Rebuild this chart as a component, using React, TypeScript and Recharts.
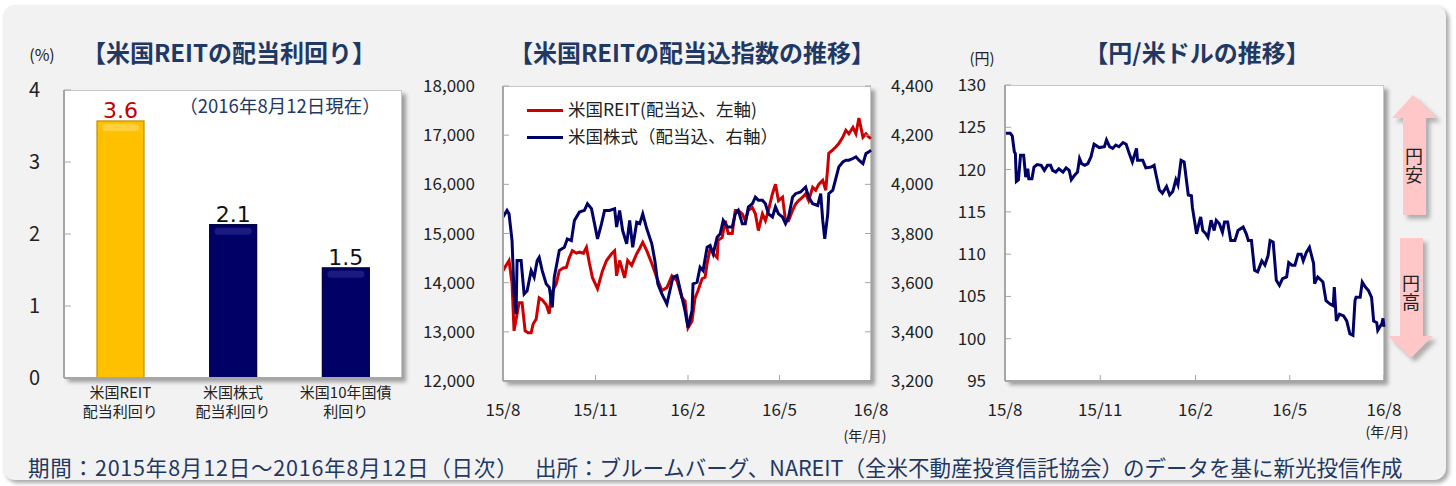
import React from "react";
import {
  BarChart,
  Bar,
  Cell,
  LabelList,
  LineChart,
  Line,
  XAxis,
  YAxis,
} from "recharts";

const FONT = "'Noto Sans CJK JP', 'Noto Sans', sans-serif";
const NAVY = "#1F3864";
const TICK_GRAY = "#A6A6A6";

// ---- 米国REITの配当利回り ----
const yieldNames = ["米国REIT\n配当利回り", "米国株式\n配当利回り", "米国10年国債\n利回り"];
const yieldValues = [3.57, 2.13, 1.53];
const yieldTicks = [0, 1, 2, 3, 4];
const barColors = ["#FFC000", "#000066", "#000066"];
const barEdges = ["#BF9000", "#00003A", "#00003A"];
const barGloss = ["#FFE48A", "#3B3B9E", "#3B3B9E"];

// ---- shared time axis (days from 2015/8/12) ----
const dateTicks = [0, 92, 184, 275, 366];
const dateLabels = ["15/8", "15/11", "16/2", "16/5", "16/8"];

// ---- 米国REIT (配当込、左軸) ----
const reitDays = [
  0, 3, 6, 9, 11, 16, 19, 22, 25, 28, 30, 33, 36, 39, 43, 46, 48, 53, 56, 60, 63, 66, 69, 73, 76,
  80, 83, 86, 89, 94, 99, 103, 108, 111, 113, 116, 121, 124, 128, 133, 136, 139, 143, 148, 153,
  158, 163, 168, 173, 178, 181, 184, 188, 191, 194, 198, 201, 203, 206, 209, 213, 214, 218, 221,
  224, 228, 231, 234, 238, 241, 244, 248, 251, 254, 258, 261, 264, 268, 271, 274, 278, 281, 284,
  288, 291, 294, 298, 301, 304, 308, 311, 314, 318, 321, 323, 324, 328, 331, 334, 338, 341, 344,
  348, 351, 354, 358, 361, 364, 366,
];
const reitValues = [
  14245, 14350, 14450, 13980, 13020, 13590, 13590, 13020, 12980, 12980, 13160, 13260, 13690, 13650,
  13550, 13370, 13780, 13980, 14245, 14300, 14310, 14510, 14650, 14600, 14620, 14600, 14720, 14390,
  14100, 13880, 14245, 14450, 14590, 14650, 14140, 14450, 14100, 14450, 14350, 14590, 14700, 14820,
  14650, 14390, 14100, 13840, 13900, 14140, 14040, 13690, 13630, 13080, 13220, 13690, 13840, 14080,
  14110, 14390, 14690, 14600, 14510, 14860, 14920, 15260, 15000, 15000, 15470, 15470, 15400, 15260,
  15470, 15530, 15400, 15060, 15400, 15260, 15470, 15810, 16000, 15670, 15740, 15260, 15260, 15470,
  15600, 15670, 15740, 15810, 15670, 15940, 15880, 16000, 16080, 15880, 16350, 16630, 16700, 16760,
  16830, 16960, 17100, 17030, 17160, 17030, 17350, 16960, 17030, 16960, 16930,
];
const reitTicks = [12000, 13000, 14000, 15000, 16000, 17000, 18000];

// ---- 米国株式 (配当込、右軸) ----
const stockDays = [
  0, 2, 4, 6, 9, 11, 13, 14, 18, 21, 24, 28, 31, 34, 36, 39, 43, 46, 49, 51, 56, 61, 64, 68, 71, 76,
  81, 84, 88, 91, 94, 98, 101, 106, 111, 113, 116, 119, 123, 126, 129, 133, 136, 139, 143, 148,
  151, 154, 158, 163, 166, 169, 173, 178, 181, 184, 188, 189, 193, 196, 199, 203, 206, 209, 213,
  216, 219, 223, 228, 231, 234, 238, 241, 244, 248, 251, 254, 258, 261, 264, 268, 271, 274, 278,
  281, 284, 288, 291, 296, 301, 304, 308, 313, 316, 318, 320, 323, 324, 328, 331, 334, 338, 341,
  344, 348, 351, 354, 358, 361, 364, 366,
];
const stockValues = [
  3867, 3880, 3894, 3880, 3771, 3554, 3472, 3690, 3690, 3554, 3567, 3649, 3622, 3690, 3703, 3649,
  3595, 3581, 3499, 3622, 3731, 3744, 3778, 3771, 3853, 3887, 3894, 3921, 3901, 3840, 3778, 3840,
  3894, 3894, 3901, 3826, 3894, 3812, 3758, 3853, 3744, 3846, 3840, 3880, 3819, 3758, 3690, 3595,
  3554, 3513, 3567, 3622, 3629, 3540, 3486, 3418, 3486, 3595, 3602, 3663, 3649, 3744, 3751, 3717,
  3785, 3799, 3853, 3826, 3826, 3880, 3894, 3840, 3840, 3908, 3921, 3948, 3935, 3935, 3921, 3880,
  3867, 3908, 3880, 3867, 3840, 3867, 3948, 3962, 3969, 3989, 3948, 3921, 3914, 3962, 3853, 3778,
  3880, 3962, 3976, 4023, 4071, 4091, 4098, 4098, 4105, 4112, 4098, 4084, 4125, 4132, 4139,
];
const stockTicks = [3200, 3400, 3600, 3800, 4000, 4200, 4400];

// ---- 円/米ドル ----
const fxDays = [
  0, 5, 7, 9, 10, 11, 13, 15, 18, 20, 22, 23, 26, 28, 31, 35, 38, 41, 44, 46, 49, 52, 56, 59, 62,
  64, 67, 70, 72, 74, 77, 80, 83, 86, 91, 96, 98, 101, 104, 107, 110, 114, 117, 120, 123, 127, 128,
  133, 136, 141, 144, 146, 149, 152, 156, 159, 162, 165, 167, 170, 173, 177, 180, 181, 185, 188,
  189, 191, 194, 196, 199, 202, 204, 207, 210, 212, 215, 218, 222, 225, 230, 233, 235, 238, 241,
  244, 248, 251, 254, 256, 259, 262, 265, 268, 272, 274, 277, 280, 283, 286, 288, 291, 294, 298,
  299, 302, 307, 310, 314, 317, 318, 320, 323, 327, 330, 333, 336, 338, 339, 343, 345, 348, 351,
  354, 356, 359, 360, 364, 365, 366,
];
const fxValues = [
  124.3, 124.3, 124.0, 122.1, 121.9, 118.6, 118.8, 121.7, 121.7, 119.1, 120.1, 118.9, 118.9, 120.3,
  120.6, 120.5, 119.9, 120.5, 120.5, 119.9, 119.7, 120.1, 119.7, 120.2, 119.9, 118.8, 119.3, 119.7,
  121.3, 120.7, 120.5, 120.7, 121.5, 123.0, 122.6, 122.7, 123.5, 122.7, 122.5, 122.9, 122.7, 123.2,
  123.0, 121.9, 120.9, 122.5, 121.1, 121.1, 120.2, 120.3, 120.5, 119.3, 117.6, 117.2, 118.0, 117.0,
  117.4, 118.8, 118.2, 121.1, 120.9, 117.0, 116.9, 115.5, 112.4, 114.0, 114.4, 112.8, 112.4, 112.0,
  114.0, 112.8, 114.0, 113.6, 112.6, 113.8, 113.8, 111.6, 111.6, 112.8, 113.2, 112.4, 111.6, 111.6,
  108.1, 107.9, 109.2, 108.7, 109.8, 111.6, 111.4, 106.9, 106.3, 107.1, 107.3, 109.0, 108.7, 108.7,
  110.0, 110.0, 109.2, 110.2, 110.8, 108.9, 106.5, 107.3, 106.7, 104.5, 104.1, 103.9, 106.1, 102.1,
  102.9, 102.7, 102.1, 100.6, 100.4, 104.5, 104.9, 104.9, 106.7, 106.1, 105.7, 104.9, 102.1, 101.9,
  101.0, 101.8, 102.4, 101.4,
];
const fxTicks = [95, 100, 105, 110, 115, 120, 125, 130];

const yieldData = yieldNames.map((name, i) => ({ name, value: yieldValues[i] }));
const reitData = reitDays.map((day, i) => ({ day, v: reitValues[i] }));
const stockData = stockDays.map((day, i) => ({ day, v: stockValues[i] }));
const fxData = fxDays.map((day, i) => ({ day, v: fxValues[i] }));

const dateFmt = (v: number) => dateLabels[dateTicks.indexOf(v)] ?? "";
const tickStyle = { fontSize: 17, fill: "#222", fontFamily: FONT };

const abs = (left: number, top: number, extra: React.CSSProperties = {}): React.CSSProperties => ({
  position: "absolute",
  left,
  top,
  ...extra,
});

const plotBox = (left: number, top: number, width: number, height: number) => (
  <div
    style={abs(left, top, {
      width,
      height,
      background: "#fff",
      boxSizing: "border-box",
      border: "1px solid #C8C8C8",
      boxShadow: "4px 4px 4px rgba(0,0,0,0.35)",
    })}
  />
);

// two-line category label, each line its own text
const CategoryTick = ({ x, y, payload }: any) => {
  const lines = String(payload.value).split("\n");
  return (
    <g>
      {lines.map((l, i) => (
        <text key={i} x={x} y={y + 12 + i * 18.5} textAnchor="middle" fontSize={15} fill="#222" fontFamily={FONT}>
          {l}
        </text>
      ))}
    </g>
  );
};

const GlossBar = (props: any) => {
  const { x, y, width, height, index } = props;
  const i = typeof index === "number" ? index : yieldNames.indexOf(props.payload?.name);
  return (
    <g>
      <rect x={x} y={y} width={width} height={height} fill={barColors[i]} stroke={barEdges[i]} strokeWidth={1.2} />
      <rect x={x + 5} y={y + 3} width={width - 10} height={7} rx={3.5} fill={barGloss[i]} opacity={0.45} />
    </g>
  );
};

const ValueLabel = (props: any) => {
  const { x, y, width, value, index } = props;
  const first = index === 0 || value === yieldValues[0];
  return (
    <text
      x={Number(x) + Number(width) / 2}
      y={Number(y) - 3}
      textAnchor="middle"
      fontSize={22}
      fontFamily="'DejaVu Sans', sans-serif"
      fill={first ? "#C00000" : "#111"}
    >
      {Number(value).toFixed(1)}
    </text>
  );
};

const Arrows = () => (
  <svg width={1456} height={486} style={abs(0, 0, { pointerEvents: "none" })}>
    <defs>
      <filter id="sh" x="-30%" y="-30%" width="160%" height="160%">
        <feGaussianBlur stdDeviation="2" />
      </filter>
    </defs>
    <g transform="translate(4,4)" fill="#777" opacity={0.55} filter="url(#sh)">
      <polygon points="1413,95 1437,118 1426,118 1426,215 1403,215 1403,118 1392,118" />
      <polygon points="1400,238 1423,238 1423,336 1433,336 1411,358 1388,336 1400,336" />
    </g>
    <g fill="#FFC7C7">
      <polygon points="1413,95 1437,118 1426,118 1426,215 1403,215 1403,118 1392,118" />
      <polygon points="1400,238 1423,238 1423,336 1433,336 1411,358 1388,336 1400,336" />
    </g>
  </svg>
);

const vertical = (text: string, cx: number, top: number) => (
  <div
    style={abs(cx - 12, top, {
      width: 24,
      writingMode: "vertical-rl",
      fontSize: 18,
      lineHeight: "24px",
      letterSpacing: 1,
      color: "#222",
    })}
  >
    {text}
  </div>
);

const title = (text: string, cx: number): React.ReactNode => (
  <div
    style={abs(cx - 250, 37, {
      width: 500,
      textAlign: "center",
      fontSize: 24,
      fontWeight: 700,
      color: NAVY,
      lineHeight: "30px",
    })}
  >
    {text}
  </div>
);

const small = (text: string, cx: number, cy: number, size: number, color = "#222") => (
  <div
    style={abs(cx - 200, cy - size * 0.6, {
      width: 400,
      textAlign: "center",
      fontSize: size,
      lineHeight: `${size * 1.2}px`,
      color,
      whiteSpace: "nowrap",
    })}
  >
    {text}
  </div>
);

export default function App() {
  return (
    <div style={{ position: "relative", width: 1456, height: 486, overflow: "hidden", background: "#fff", fontFamily: FONT }}>
      <style>{`body{margin:0}`}</style>
      <div
        style={abs(3, 5, {
          width: 1443,
          height: 475,
          borderRadius: 12,
          background: "#F2F2F2",
          boxShadow: "3px 3px 4px rgba(0,0,0,0.35)",
        })}
      />

      {title("【米国REITの配当利回り】", 229)}
      {title("【米国REITの配当込指数の推移】", 692)}
      {title("【円/米ドルの推移】", 1197)}

      {small("(%)", 42, 55, 16)}
      {small("(円)", 982, 58, 15)}
      {small("(年/月)", 865, 435, 14)}
      {small("(年/月)", 1387, 431, 14)}

      {plotBox(64, 90, 338, 288)}
      {plotBox(503, 86, 368, 295)}
      {plotBox(1005, 85, 379, 296)}

      {/* yield bars */}
      <div style={abs(0, 0)}>
        <BarChart width={420} height={440} data={yieldData} margin={{ top: 90, right: 18, bottom: 12, left: 0 }}>
          <XAxis
            dataKey="name"
            height={50}
            tick={<CategoryTick />}
            tickLine={false}
            axisLine={{ stroke: TICK_GRAY, strokeWidth: 2 }}
            interval={0}
          />
          <YAxis
            width={64}
            domain={[0, 4]}
            ticks={yieldTicks}
            interval={0}
            tickSize={-7}
            tickMargin={31}
            tick={{ fontSize: 20, fill: "#222", fontFamily: FONT }}
            tickLine={{ stroke: TICK_GRAY }}
            axisLine={{ stroke: TICK_GRAY, strokeWidth: 2 }}
          />
          <Bar dataKey="value" barSize={47} shape={<GlossBar />} isAnimationActive={false}>
            {yieldData.map((d, i) => (
              <Cell key={d.name} fill={barColors[i]} />
            ))}
            <LabelList dataKey="value" content={<ValueLabel />} />
          </Bar>
        </BarChart>
      </div>
      {small("（2016年8月12日現在）", 280, 105, 18.5, NAVY)}

      {/* REIT vs stocks */}
      <div style={abs(420, 0)}>
        <LineChart width={530} height={450} margin={{ top: 86, right: 0, bottom: 9, left: 0 }}>
          <XAxis
            dataKey="day"
            type="number"
            domain={[0, 366]}
            ticks={dateTicks}
            interval={0}
            tickFormatter={dateFmt}
            height={60}
            tickSize={-6}
            tickMargin={29}
            tick={tickStyle}
            tickLine={{ stroke: TICK_GRAY }}
            axisLine={{ stroke: TICK_GRAY, strokeWidth: 2 }}
          />
          <YAxis
            yAxisId="left"
            width={83}
            domain={[12000, 18000]}
            ticks={reitTicks}
            interval={0}
            tickFormatter={(v: number) => v.toLocaleString("en-US")}
            tickSize={-6}
            tickMargin={34}
            tick={tickStyle}
            tickLine={{ stroke: TICK_GRAY }}
            axisLine={{ stroke: TICK_GRAY, strokeWidth: 2 }}
          />
          <YAxis
            yAxisId="right"
            orientation="right"
            width={79}
            domain={[3200, 4400]}
            ticks={stockTicks}
            interval={0}
            tickFormatter={(v: number) => v.toLocaleString("en-US")}
            tickSize={-6}
            tickMargin={26}
            tick={tickStyle}
            tickLine={{ stroke: TICK_GRAY }}
            axisLine={false}
          />
          <Line
            yAxisId="left"
            data={reitData}
            dataKey="v"
            type="linear"
            stroke="#CC0000"
            strokeWidth={3}
            dot={false}
            isAnimationActive={false}
          />
          <Line
            yAxisId="right"
            data={stockData}
            dataKey="v"
            type="linear"
            stroke="#000066"
            strokeWidth={3}
            dot={false}
            isAnimationActive={false}
          />
        </LineChart>
      </div>
      <div style={abs(527, 95, { fontSize: 17.5, color: "#222", lineHeight: "27px" })}>
        {[
          ["#CC0000", "米国REIT(配当込、左軸)"],
          ["#000066", "米国株式（配当込、右軸）"],
        ].map(([c, t]) => (
          <div key={t} style={{ display: "flex", alignItems: "center", whiteSpace: "nowrap" }}>
            <span style={{ display: "inline-block", width: 36, height: 3, background: c, marginRight: 5, marginTop: 4 }} />
            {t}
          </div>
        ))}
      </div>

      {/* USD/JPY */}
      <div style={abs(930, 0)}>
        <LineChart width={526} height={450} margin={{ top: 85, right: 72, bottom: 9, left: 0 }}>
          <XAxis
            dataKey="day"
            type="number"
            domain={[0, 366]}
            ticks={dateTicks}
            interval={0}
            tickFormatter={dateFmt}
            height={60}
            tickSize={-6}
            tickMargin={29}
            tick={tickStyle}
            tickLine={{ stroke: TICK_GRAY }}
            axisLine={{ stroke: TICK_GRAY, strokeWidth: 2 }}
          />
          <YAxis
            width={75}
            domain={[95, 130]}
            ticks={fxTicks}
            interval={0}
            tickSize={-6}
            tickMargin={25}
            tick={tickStyle}
            tickLine={{ stroke: TICK_GRAY }}
            axisLine={{ stroke: TICK_GRAY, strokeWidth: 2 }}
          />
          <Line
            data={fxData}
            dataKey="v"
            type="linear"
            stroke="#000066"
            strokeWidth={3}
            dot={false}
            isAnimationActive={false}
          />
        </LineChart>
      </div>
      <Arrows />
      {vertical("円安", 1414, 147)}
      {vertical("円高", 1411, 274)}

      <div style={abs(28, 453, { fontSize: 21.5, letterSpacing: 0.8, color: NAVY, lineHeight: "28px", whiteSpace: "nowrap" })}>
        期間：2015年8月12日～2016年8月12日（日次）
      </div>
      <div style={abs(535, 453, { fontSize: 21.5, color: NAVY, lineHeight: "28px", whiteSpace: "nowrap" })}>
        出所：ブルームバーグ、NAREIT（全米不動産投資信託協会）のデータを基に新光投信作成
      </div>
    </div>
  );
}
